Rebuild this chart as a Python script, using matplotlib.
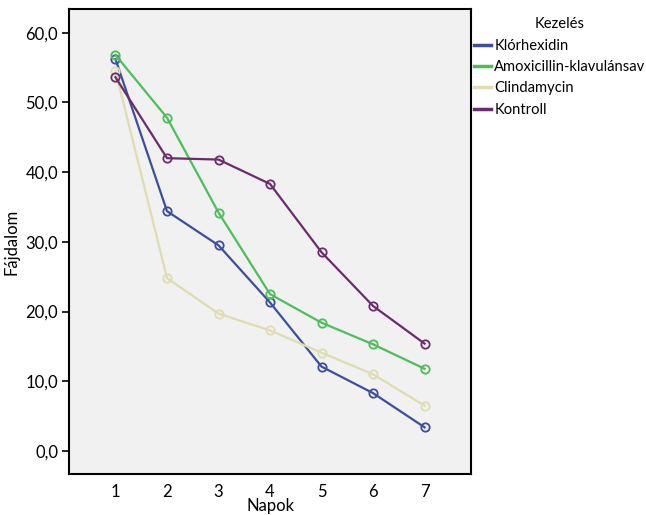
import numpy as np
import matplotlib.pyplot as plt
from matplotlib.ticker import FuncFormatter

plt.rcParams["font.family"] = ["Lato", "DejaVu Sans"]

# Days and mean pain scores per treatment group
napok = [1, 2, 3, 4, 5, 6, 7]
klorhexidin = [56.2, 34.4, 29.5, 21.3, 12.1, 8.3, 3.4]
amoxicillin = [56.8, 47.8, 34.2, 22.5, 18.4, 15.3, 11.8]
clindamycin = [54.5, 24.8, 19.7, 17.3, 14.1, 11.0, 6.5]
kontroll = [53.6, 42.0, 41.8, 38.3, 28.5, 20.8, 15.4]

series = [
    ("Klórhexidin", klorhexidin, "#3c4f9c"),
    ("Amoxicillin-klavulánsav", amoxicillin, "#4cbf5a"),
    ("Clindamycin", clindamycin, "#dedcb0"),
    ("Kontroll", kontroll, "#6b2c6e"),
]

fig = plt.figure(figsize=(6.46, 5.15), dpi=100)
ax = fig.add_axes([0.107, 0.0796, 0.622, 0.903])
ax.set_facecolor("#f1f1f1")

# draw pale line first so it sits behind the others
order = [2, 3, 0, 1]
handles = {}
for i in order:
    name, vals, col = series[i]
    h, = ax.plot(napok, vals, color=col, lw=1.6, marker="o", ms=6,
                 mfc="none", mec=col, mew=1.3, label=name, zorder=3 + i)
    handles[name] = h

ax.set_xlim(0.1, 7.9)
ax.set_ylim(-3.3, 63.4)
ax.set_xticks(napok)
ax.set_yticks(np.arange(0, 61, 10))
ax.yaxis.set_major_formatter(FuncFormatter(lambda v, p: f"{v:.1f}".replace(".", ",")))

for s in ax.spines.values():
    s.set_linewidth(1.5)
    s.set_color("black")
ax.tick_params(direction="out", length=5, width=1.2, labelsize=12, pad=3)
ax.tick_params(axis="x", length=0, pad=7)

ax.set_xlabel("Napok", fontsize=12, labelpad=-1)
ax.set_ylabel("Fájdalom", fontsize=12, labelpad=4)

leg = ax.legend([handles[s[0]] for s in series], [s[0] for s in series],
                title="Kezelés", loc="upper left", bbox_to_anchor=(1.003, 0.985),
                frameon=False, fontsize=10.6, title_fontsize=10.6,
                handlelength=1.15, handletextpad=0.25, labelspacing=0.5,
                borderaxespad=0.0, borderpad=0.1)
for line in leg.get_lines():
    line.set_marker("")
    line.set_linewidth(2.5)

fig.savefig("out.png", dpi=100)
